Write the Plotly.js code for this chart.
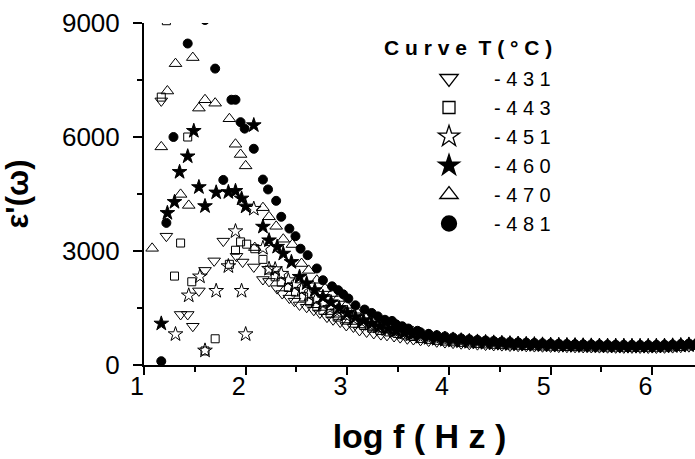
<!DOCTYPE html>
<html><head><meta charset="utf-8">
<script src="https://cdn.plot.ly/plotly-3.0.1.min.js"></script>
<style>html,body{margin:0;padding:0;background:#fff;}#chart{width:695px;height:459px;}</style>
</head><body><div id="chart"></div>
<script>
// shared high-frequency grid (log f)
const tailLogF = [3.72,3.80,3.88,3.96,4.04,4.12,4.20,4.28,4.36,4.44,4.52,4.60,4.68,4.76,4.84,4.92,5.00,5.08,5.16,5.24,5.32,5.40,5.48,5.56,5.64,5.72,5.80,5.88,5.96,6.04,6.12,6.20,6.28,6.36,6.44];

// T = -431
const logF431 = [1.17,1.22,1.36,1.43,1.48,1.54,1.60,1.69,1.78,1.91,1.97,2.08,2.17,2.23,2.31,2.36,2.43,2.48,2.53,2.60,2.67,2.73,2.80,2.86,2.93,2.99,3.06,3.12,3.19,3.26,3.33,3.39,3.46,3.52,3.59,3.65];
const eps431  = [6950,3390,1330,1330,1020,1950,2490,2740,3260,2860,2710,2580,2250,2200,2010,1880,1760,1680,1580,1520,1440,1370,1260,1190,1130,1040,1000,910,870,830,800,780,750,720,690,670];
const tail431 = [650,630,610,590,575,560,545,535,525,515,510,500,495,490,485,480,475,470,468,465,462,460,458,455,452,450,450,448,447,448,452,458,468,482,500];

// T = -443
const logF443 = [1.17,1.22,1.30,1.36,1.43,1.47,1.60,1.70,1.84,1.90,1.95,2.01,2.09,2.17,2.23,2.29,2.35,2.42,2.49,2.57,2.63,2.70,2.76,2.83,2.90,2.99,3.07,3.16,3.24,3.32,3.41,3.49,3.57,3.65];
const eps443  = [7050,9060,2340,3210,6000,2190,370,690,2650,3020,3240,3180,3060,2780,2500,2320,2180,2040,1920,1790,1660,1530,1440,1350,1260,1180,1100,1040,970,910,870,830,790,750];
const tail443 = [700,675,650,630,610,595,580,568,556,545,536,528,520,513,507,501,496,492,488,484,481,478,475,472,470,468,467,466,466,468,472,478,488,502,520];

// T = -451
const logF451 = [1.31,1.44,1.55,1.60,1.71,1.83,1.90,1.96,2.00,2.08,2.17,2.23,2.29,2.35,2.42,2.48,2.55,2.62,2.69,2.76,2.83,2.90,2.98,3.06,3.14,3.22,3.30,3.38,3.46,3.54,3.62];
const eps451  = [810,1830,2330,380,1950,2600,3520,1950,810,4110,3080,2530,2520,2400,2230,2100,1980,1850,1720,1610,1500,1410,1320,1230,1150,1080,1010,950,900,850,800];
const tail451 = [740,710,685,660,640,622,606,592,580,568,558,549,541,534,527,521,516,511,507,503,499,496,493,490,488,486,485,484,484,486,490,497,507,520,538];

// T = -460
const logF460 = [1.17,1.23,1.30,1.35,1.43,1.49,1.54,1.60,1.71,1.83,1.90,1.96,2.00,2.08,2.17,2.23,2.31,2.37,2.45,2.53,2.60,2.68,2.76,2.84,2.92,3.00,3.08,3.16,3.24,3.32,3.40,3.48,3.56,3.64];
const eps460  = [1090,4000,4290,5080,5490,6160,4680,4180,4540,4550,4580,4380,4170,6310,3640,3280,3110,2930,2710,2320,2150,1970,1790,1650,1500,1370,1260,1170,1090,1020,960,900,850,810];
const tail460 = [780,745,715,690,668,648,630,615,602,590,579,569,560,552,545,538,532,527,522,518,514,511,508,505,503,501,500,499,499,501,505,512,522,536,554];

// T = -470
const logF470 = [1.08,1.17,1.23,1.31,1.36,1.44,1.48,1.54,1.60,1.70,1.84,1.90,1.95,2.00,2.09,2.17,2.23,2.30,2.37,2.46,2.55,2.62,2.70,2.78,2.85,2.91,2.99,3.08,3.16,3.24,3.32,3.42,3.52,3.65];
const eps470  = [3070,5740,7210,7930,4490,4200,8090,6760,6980,6890,6480,5810,5540,5240,3090,4140,3900,3650,3310,3170,2670,2490,2230,2010,1880,1750,1570,1440,1310,1220,1130,1040,960,870];
const tail470 = [820,785,752,722,697,675,656,638,623,610,598,587,577,568,560,553,546,540,535,530,526,522,519,516,514,512,511,510,510,512,516,523,533,547,565];

// T = -481
const logF481 = [1.17,1.22,1.29,1.43,1.60,1.70,1.78,1.86,1.90,1.95,1.99,2.08,2.17,2.22,2.30,2.35,2.43,2.49,2.54,2.61,2.70,2.76,2.85,2.91,2.96,3.01,3.08,3.17,3.24,3.30,3.37,3.44,3.48,3.54,3.60,3.69];
const eps481  = [100,3740,6000,8460,9080,7800,4870,6980,6980,6390,6220,5690,4880,4620,4320,3900,3590,3390,3060,2890,2540,2230,2070,1970,1860,1750,1570,1460,1370,1280,1190,1160,1070,1020,960,900];
const tail481 = [860,820,785,752,724,700,678,660,645,631,619,608,598,589,581,573,566,560,555,550,546,542,539,536,533,531,530,529,529,531,535,541,551,565,583];

const seriesNames = ['- 4 3 1','- 4 4 3','- 4 5 1','- 4 6 0','- 4 7 0','- 4 8 1'];
const xTicks = [1,2,3,4,5,6];
const yTicks = [0,3000,6000,9000];

const data = [
  [logF431, eps431, tail431, 'triangle-down-open', 11, 16],
  [logF443, eps443, tail443, 'square-open', 8, 12],
  [logF451, eps451, tail451, 'star-open', 11, 16],
  [logF460, eps460, tail460, 'star', 11, 16],
  [logF470, eps470, tail470, 'triangle-up-open', 11, 16],
  [logF481, eps481, tail481, 'circle', 9, 15]
];

const traces = data.map((d, i) => ({
  type: 'scatter', mode: 'markers',
  x: d[0].concat(tailLogF), y: d[1].concat(d[2]),
  name: seriesNames[i], showlegend: false,
  marker: {symbol: d[3], size: d[4], color: '#000', line: {color: '#000', width: 1}},
  cliponaxis: true
}));
// legend entries (no points; larger legend symbols)
const legendTraces = data.map((d, i) => ({
  type: 'scatter', mode: 'markers', x: [null], y: [null],
  name: seriesNames[i], showlegend: true,
  marker: {symbol: d[3], size: d[5], color: '#000', line: {color: '#000', width: 1.3}}
}));

const W = 695, H = 459, L = 144, R = 0, T = 23, B = 94;
const px2x = p => (p - L) / (W - L - R);
const px2y = p => 1 - (p - T) / (H - T - B);

const layout = {
  width: W, height: H,
  margin: {l: L, r: R, t: T, b: B},
  paper_bgcolor: '#fff', plot_bgcolor: '#fff',
  font: {family: '"Liberation Sans", Arial, sans-serif', color: '#000'},
  showlegend: true,
  xaxis: {
    range: [1, 6.42], tickmode: 'array', tickvals: xTicks, ticktext: xTicks.map(v => v + '\u00a0\u00a0'),
    ticks: 'outside', ticklen: 8, tickwidth: 2, tickcolor: '#000',
    showline: true, linewidth: 2, linecolor: '#000', showgrid: false, zeroline: false,
    tickfont: {size: 25}, ticklabelstandoff: -10,
    minor: {dtick: 0.5, tick0: 1, ticks: 'outside', ticklen: 5, tickwidth: 2, tickcolor: '#000', showgrid: false},
    title: {text: 'log f ( H z )', font: {size: 34, weight: 'bold'}, standoff: 25}
  },
  yaxis: {
    range: [0, 9000], tickmode: 'array', tickvals: yTicks, ticktext: yTicks.map(String),
    ticks: 'outside', ticklen: 9, tickwidth: 2, tickcolor: '#000',
    showline: true, linewidth: 2, linecolor: '#000', showgrid: false, zeroline: false,
    tickfont: {size: 26}, ticklabelstandoff: 8,
    minor: {dtick: 1500, tick0: 0, ticks: 'outside', ticklen: 5, tickwidth: 2, tickcolor: '#000', showgrid: false},
    title: {text: "ε'(ω)", font: {size: 31, weight: 'bold'}, standoff: 26}
  },
  legend: {
    x: px2x(404), y: px2y(59), xanchor: 'left', yanchor: 'top',
    font: {size: 20}, itemwidth: 80, bgcolor: 'rgba(0,0,0,0)', borderwidth: 0
  },
  annotations: [{
    xref: 'paper', yref: 'paper', x: px2x(382), y: px2y(48), xanchor: 'left', yanchor: 'middle',
    text: 'C u r v e  T ( ° C )', showarrow: false, font: {size: 21, weight: 'bold'}
  }]
};

Plotly.newPlot('chart', traces.concat(legendTraces), layout, {displayModeBar: false, staticPlot: true});
</script>
</body></html>
